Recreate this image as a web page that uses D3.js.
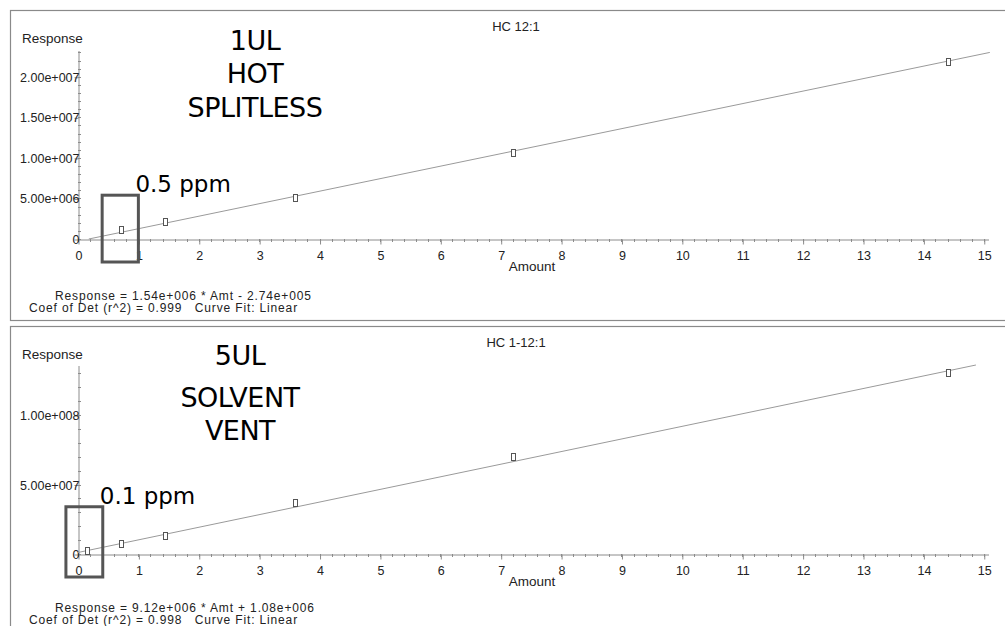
<!DOCTYPE html>
<html>
<head>
    <title>HC calibration curves</title>
    <script src="https://cdn.jsdelivr.net/npm/d3@7"></script>
    <style>
        body {
            margin: 0;
            padding: 0;
            background-color: white;
        }

        .tick-label, .axis-title, .panel-title, .fit-text {
            font-family: "Liberation Sans", Arial, sans-serif;
            fill: #222;
        }

        .tick-label { font-size: 12.5px; }
        .axis-title { font-size: 13.5px; }
        .panel-title { font-size: 13px; }
        .fit-text { font-size: 12px; letter-spacing: 0.85px; white-space: pre; }

        .big-label {
            font-family: "DejaVu Sans", sans-serif;
            font-size: 27px;
            fill: #000;
            text-anchor: middle;
            letter-spacing: -0.5px;
        }

        .ppm-label {
            font-family: "DejaVu Sans", sans-serif;
            font-size: 23px;
            fill: #000;
        }
    </style>
</head>
<body>
    <div id="chart"></div>

    <script>
        // amounts (ppm) and responses
        const amountsTop = [0.72, 1.44, 3.6, 7.2, 14.4];
        const responsesTop = [1.1e6, 2.05e6, 5.1e6, 10.6e6, 21.8e6];
        const fitTop = [[0.178, 0], [15.1, 2.3e7]];

        const amountsBottom = [0.144, 0.72, 1.44, 3.6, 7.2, 14.4];
        const responsesBottom = [2.3e6, 7.2e6, 13.2e6, 37e6, 69.6e6, 130e6];
        const fitBottom = [[0, 1.08e6], [14.87, 1.36e8]];

        const xTicks = [0, 1, 2, 3, 4, 5, 6, 7, 8, 9, 10, 11, 12, 13, 14, 15];
        const yTicksTop = [0, 5e6, 1e7, 1.5e7, 2e7];
        const yLabelsTop = ["0", "5.00e+006", "1.00e+007", "1.50e+007", "2.00e+007"];
        const yTicksBottom = [0, 5e7, 1e8];
        const yLabelsBottom = ["0", "5.00e+007", "1.00e+008"];

        const svg = d3.select("#chart")
            .append("svg")
            .attr("width", 1005)
            .attr("height", 626);

        const axisColor = "#8c8c8c";

        function drawPanel(p) {
            // panel frame
            svg.append("rect")
                .attr("x", 10.5)
                .attr("y", p.top + 0.5)
                .attr("width", 1010)
                .attr("height", p.frameHeight)
                .attr("fill", "none")
                .attr("stroke", "#8a8a8a")
                .attr("stroke-width", 1.2);

            const x = d3.scaleLinear().domain([0, 15.07]).range([78, 988]);
            const y = d3.scaleLinear().domain([0, p.yMax]).range([p.axisY, p.axisTop]);

            // minor ticks
            const xMinor = d3.range(0, 15.01, 0.2);
            svg.append("g").selectAll("line")
                .data(xMinor)
                .enter()
                .append("line")
                .attr("x1", d => Math.round(x(d)) + 0.5)
                .attr("x2", d => Math.round(x(d)) + 0.5)
                .attr("y1", p.axisY)
                .attr("y2", p.axisY + 3)
                .attr("stroke", axisColor);

            const yMinor = d3.range(0, p.yMax, p.yMinorStep);
            svg.append("g").selectAll("line")
                .data(yMinor)
                .enter()
                .append("line")
                .attr("x1", 78)
                .attr("x2", 81)
                .attr("y1", d => Math.round(y(d)) + 0.5)
                .attr("y2", d => Math.round(y(d)) + 0.5)
                .attr("stroke", axisColor);

            // x axis
            const xAxis = svg.append("g")
                .attr("transform", `translate(0.5, ${p.axisY + 0.5})`)
                .call(d3.axisBottom(x)
                    .tickValues(xTicks)
                    .tickFormat(d3.format("d"))
                    .tickSizeInner(5)
                    .tickSizeOuter(0)
                    .tickPadding(7));
            xAxis.selectAll("path, line").attr("stroke", axisColor);
            xAxis.selectAll("text")
                .attr("class", "tick-label")
                .attr("font-family", null)
                .attr("font-size", null)
                .attr("fill", null);

            // y axis
            const yAxis = svg.append("g")
                .attr("transform", `translate(78.5, 0.5)`)
                .call(d3.axisLeft(y)
                    .tickValues(p.yTicks)
                    .tickFormat((d, i) => p.yLabels[i])
                    .tickSizeInner(4)
                    .tickSizeOuter(0)
                    .tickPadding(-5));
            yAxis.selectAll("path, line").attr("stroke", axisColor);
            yAxis.selectAll("text")
                .attr("class", "tick-label")
                .attr("font-family", null)
                .attr("font-size", null)
                .attr("fill", null);

            // fit line
            svg.append("line")
                .attr("x1", x(p.fit[0][0]))
                .attr("y1", y(p.fit[0][1]))
                .attr("x2", x(p.fit[1][0]))
                .attr("y2", y(p.fit[1][1]))
                .attr("stroke", "#9a9a9a")
                .attr("stroke-width", 1);

            // calibration points
            svg.append("g").selectAll("rect")
                .data(p.amounts)
                .enter()
                .append("rect")
                .attr("x", d => Math.round(x(d)) - 1.5)
                .attr("y", (d, i) => Math.round(y(p.responses[i])) - 3.5)
                .attr("width", 4)
                .attr("height", 7)
                .attr("fill", "white")
                .attr("stroke", "#555")
                .attr("stroke-width", 1);

            // texts
            svg.append("text")
                .attr("class", "axis-title")
                .attr("x", 22)
                .attr("y", p.top + 33)
                .text("Response");

            svg.append("text")
                .attr("class", "panel-title")
                .attr("x", 516)
                .attr("y", p.top + 21)
                .attr("text-anchor", "middle")
                .text(p.title);

            svg.append("text")
                .attr("class", "axis-title")
                .attr("x", 532)
                .attr("y", p.axisY + 32)
                .attr("text-anchor", "middle")
                .text("Amount");

            svg.append("text")
                .attr("class", "fit-text")
                .attr("x", 55)
                .attr("y", p.eqY[0])
                .text(p.equation);

            svg.append("text")
                .attr("class", "fit-text")
                .attr("x", 29)
                .attr("y", p.eqY[1])
                .text(p.coef);

            p.bigLines.forEach((t, i) => {
                svg.append("text")
                    .attr("class", "big-label")
                    .attr("x", p.bigX)
                    .attr("y", p.bigY[i])
                    .text(t);
            });

            // highlight box around the lowest level
            svg.append("rect")
                .attr("x", x(p.box[0]))
                .attr("y", y(p.box[2]))
                .attr("width", x(p.box[1]) - x(p.box[0]))
                .attr("height", p.axisY + p.boxBelow - y(p.box[2]))
                .attr("fill", "none")
                .attr("stroke", "#555")
                .attr("stroke-width", 3);

            svg.append("text")
                .attr("class", "ppm-label")
                .attr("x", x(p.box[1]) - 3)
                .attr("y", y(p.box[2]) - 3)
                .text(p.ppm);
        }

        drawPanel({
            top: 10,
            frameHeight: 310,
            axisY: 239,
            axisTop: 50,
            yMax: 2.33e7,
            yMinorStep: 1e6,
            yTicks: yTicksTop,
            yLabels: yLabelsTop,
            amounts: amountsTop,
            responses: responsesTop,
            fit: fitTop,
            title: "HC 12:1",
            equation: "Response = 1.54e+006 * Amt - 2.74e+005",
            coef: "Coef of Det (r^2) = 0.999   Curve Fit: Linear",
            eqY: [300, 312],
            bigLines: ["1UL", "HOT", "SPLITLESS"],
            bigX: 255,
            bigY: [50, 83, 117],
            box: [0.4, 1.0, 5.4e6],
            boxBelow: 23,
            ppm: "0.5 ppm"
        });

        drawPanel({
            top: 326,
            frameHeight: 310,
            axisY: 554,
            axisTop: 365,
            yMax: 1.36e8,
            yMinorStep: 1e7,
            yTicks: yTicksBottom,
            yLabels: yLabelsBottom,
            amounts: amountsBottom,
            responses: responsesBottom,
            fit: fitBottom,
            title: "HC 1-12:1",
            equation: "Response = 9.12e+006 * Amt + 1.08e+006",
            coef: "Coef of Det (r^2) = 0.998   Curve Fit: Linear",
            eqY: [612, 624],
            bigLines: ["5UL", "SOLVENT", "VENT"],
            bigX: 240,
            bigY: [365, 407, 440],
            box: [-0.2, 0.41, 3.4e7],
            boxBelow: 23,
            ppm: "0.1 ppm"
        });
    </script>
</body>
</html>
